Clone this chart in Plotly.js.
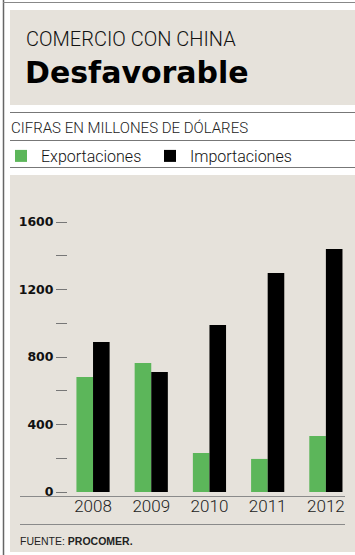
<!DOCTYPE html>
<html><head><meta charset="utf-8">
<script src="https://cdn.plot.ly/plotly-3.0.1.min.js"></script>
<style>html,body{margin:0;padding:0;background:#fff}#chart{width:355px;height:555px}</style>
</head><body><div id="chart"></div>
<script>
const years = ['2008','2009','2010','2011','2012'];
const exportaciones = [681, 764, 231, 196, 332];
const importaciones = [889, 711, 990, 1298, 1440];
const yTickVals = [0, 400, 800, 1200, 1600];
const seriesNames = ['Exportaciones', 'Importaciones'];

const W = 355, H = 555, L = 68, R = 0, T = 200, B = 63;
const pw = W - L - R, ph = H - T - B;
const px = v => (v - L) / pw;
const py = v => (H - B - v) / ph;
const beige = '#e6e2db';
const green = '#5cb65a';
const lineC = '#8a8a8a';
const FONT = 'Liberation Sans, Arial, sans-serif';
const BOLD = 'DejaVu Sans, Liberation Sans, sans-serif';

const traces = [
  {type:'bar', x: years, y: exportaciones, name: seriesNames[0], marker:{color: green}, hoverinfo:'none'},
  {type:'bar', x: years, y: importaciones, name: seriesNames[1], marker:{color: '#000'}, hoverinfo:'none'}
];

function rect(x0,y0,x1,y1,fill){return {type:'rect',xref:'paper',yref:'paper',x0:px(x0),x1:px(x1),y0:py(y1),y1:py(y0),fillcolor:fill,line:{width:0},layer:'below'};}
function hline(x0,x1,y,c,w){return {type:'line',xref:'paper',yref:'paper',x0:px(x0),x1:px(x1),y0:py(y),y1:py(y),line:{color:c,width:w||1},layer:'below'};}
function vline(x,y0,y1,c,w){return {type:'line',xref:'paper',yref:'paper',x0:px(x),x1:px(x),y0:py(y0),y1:py(y1),line:{color:c,width:w||1},layer:'below'};}

const shapes = [
  rect(10,10,355,105,beige),
  rect(10,175,355,552,beige),
  vline(3.5,0,555,'#666',1.5),
  hline(3,355,2.5,'#888',1),
  hline(10,355,112.5,'#777',1),
  hline(10,355,140.5,'#777',1),
  hline(10,355,167.5,'#777',1),
  hline(20,345,496.5,lineC,1),
  hline(20,345,524.5,lineC,1)
];

function ann(text,x,y,font){return {text:text,xref:'paper',yref:'paper',x:px(x),y:py(y),xanchor:'left',yanchor:'middle',showarrow:false,font:font};}

const annotations = [
  ann('COMERCIO CON CHINA',24,39,{family:'Roboto, '+FONT,size:20,color:'#111',weight:300}),
  ann('<b>Desfavorable</b>',23,72,{family:BOLD,size:30,color:'#000'}),
  ann('CIFRAS EN MILLONES DE DÓLARES',9,128,{family:'Roboto, '+FONT,size:15,color:'#222',weight:300}),
  ann('FUENTE: <b>PROCOMER.</b>',18,541,{family:FONT,size:10.5,color:'#222'})
];

const layout = {
  width: W, height: H,
  margin: {l:L, r:R, t:T, b:B, pad:0},
  paper_bgcolor: '#fff',
  plot_bgcolor: 'rgba(0,0,0,0)',
  barmode: 'group',
  bargap: 0.43,
  bargroupgap: 0,
  showlegend: true,
  legend: {orientation:'h', x: px(1), y: py(156), xanchor:'left', yanchor:'middle',
           bgcolor:'rgba(0,0,0,0)', font:{family:'Roboto, '+FONT, size:16, color:'#111', weight:300},
           entrywidth: 104, entrywidthmode:'pixels', traceorder:'normal'},
  xaxis: {type:'category', range:[-0.43, 4.5], showgrid:false, zeroline:false, showline:false,
          ticks:'', ticklabelstandoff: 2,
          tickfont:{family:'Roboto, '+FONT, size:17, color:'#222', weight:300}, fixedrange:true},
  yaxis: {range:[0, ph/0.16875], tickvals: yTickVals, showgrid:false, zeroline:false, showline:false,
          ticks:'outside', ticklen:11, tickcolor:'#777', tickwidth:1,
          minor:{dtick:200, tick0:0, ticks:'outside', ticklen:11, tickcolor:'#777', tickwidth:1, showgrid:false},
          tickfont:{family:BOLD, size:12.5, color:'#111', weight:'bold'}, fixedrange:true},
  shapes: shapes,
  annotations: annotations
};

Plotly.newPlot('chart', traces, layout, {displayModeBar:false, staticPlot:true});
</script></body></html>
